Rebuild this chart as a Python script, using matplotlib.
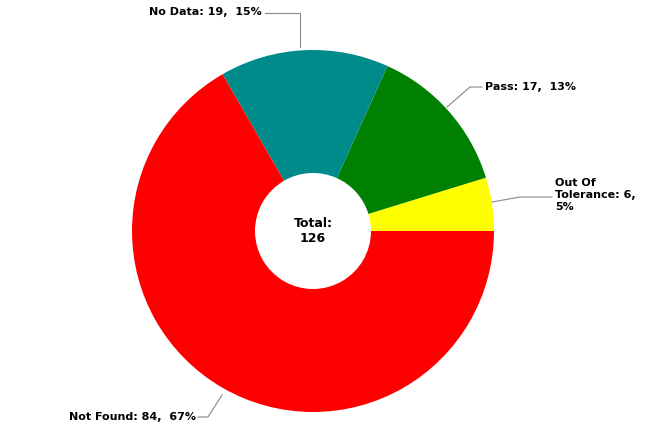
import matplotlib
matplotlib.use("Agg")
import matplotlib.pyplot as plt

labels = ["Out Of Tolerance", "Pass", "No Data", "Not Found"]
values = [6, 17, 19, 84]
colors = ["#ffff00", "#008000", "#008b8b", "#ff0000"]
pcts = ["5%", "13%", "15%", "67%"]
total = sum(values)

W, H = 650, 433
fig = plt.figure(figsize=(6.5, 4.33), dpi=100)
cx, cy, r = 313, 231, 181
ax = fig.add_axes([(cx - r) / W, (H - cy - r) / H, 2 * r / W, 2 * r / H])
ax.pie(values, colors=colors, startangle=0, counterclock=True,
       wedgeprops=dict(width=1 - 58 / 181, edgecolor="none"), radius=1)
ax.set_xlim(-1, 1); ax.set_ylim(-1, 1); ax.set_aspect("equal"); ax.axis("off")
ax.text(0, 0, f"Total:\n{total}", ha="center", va="center", fontsize=9, fontweight="bold")

lc = "#888888"
def line(xs, ys):
    fig.add_artist(plt.Line2D([x / W for x in xs], [(H - y) / H for y in ys], color=lc, lw=0.8))

# No Data
line([265, 300, 300], [13, 13, 47])
fig.text(262 / W, (H - 12) / H, f"{labels[2]}: {values[2]},  {pcts[2]}", ha="right", va="center", fontsize=8, fontweight="bold")
# Pass
line([447, 470, 482], [107, 87, 87])
fig.text(485 / W, (H - 87) / H, f"{labels[1]}: {values[1]},  {pcts[1]}", ha="left", va="center", fontsize=8, fontweight="bold")
# Out of tolerance
line([492, 520, 552], [202, 197, 197])
fig.text(555 / W, (H - 195) / H, f"Out Of\nTolerance: {values[0]},\n{pcts[0]}", ha="left", va="center", fontsize=8, fontweight="bold", linespacing=1.2)
# Not found
line([222, 208, 198], [395, 417, 417])
fig.text(196 / W, (H - 417) / H, f"{labels[3]}: {values[3]},  {pcts[3]}", ha="right", va="center", fontsize=8, fontweight="bold")

fig.savefig("out.png", dpi=100)
